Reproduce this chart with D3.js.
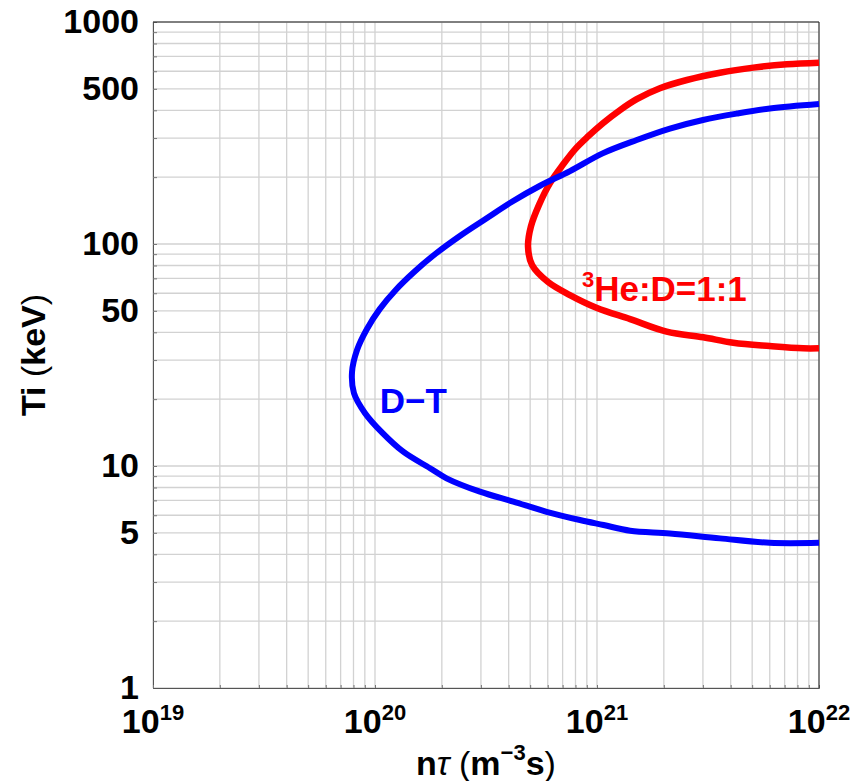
<!DOCTYPE html>
<html>
<head>
<meta charset="utf-8">
<script src="https://cdn.jsdelivr.net/npm/d3@7"></script>
<style>
  body { margin: 0; background: #fff; }
  text { font-family: "Liberation Sans", Arial, sans-serif; font-weight: bold; }
</style>
</head>
<body>
<div id="chart"></div>
<script>
const FRAME_WIDTH = 867;
const FRAME_HEIGHT = 781;
const MARGINS = {left: 153, right: 48, top: 22, bottom: 93};

const VIS_WIDTH = FRAME_WIDTH - MARGINS.left - MARGINS.right;
const VIS_HEIGHT = FRAME_HEIGHT - MARGINS.top - MARGINS.bottom;

// axis ticks
const NT_DECADES = [19, 20, 21, 22];
const TI_LABELS = [1, 5, 10, 50, 100, 500, 1000];

// D-T curve (n tau in m^-3 s, Ti in keV)
const dtNt = [1.00e22, 6.01e21, 4.27e21, 3.00e21, 2.13e21, 1.51e21, 1.06e21, 7.56e20,
              5.54e20, 4.14e20, 3.16e20, 2.42e20, 1.88e20, 1.50e20, 1.24e20, 1.05e20,
              9.20e19, 8.30e19, 7.88e19, 8.04e19, 9.02e19, 1.08e20, 1.34e20, 1.77e20,
              2.10e20, 2.97e20, 4.20e20, 5.93e20, 8.38e20, 1.07e21, 1.41e21, 2.13e21,
              3.58e21, 6.0e21, 1.00e22];
const dtTi = [427, 408, 387, 362, 331, 294, 256, 213,
              183, 155, 130, 109, 90.6, 74.8, 62.1, 50.9,
              41.4, 33.3, 26.5, 21.3, 17.3, 14.1, 11.6, 9.77,
              8.80, 7.66, 6.91, 6.22, 5.71, 5.42, 5.11, 4.97,
              4.72, 4.51, 4.51];

// 3He:D=1:1 curve
const heNt = [1.00e22, 7.16e21, 5.06e21, 3.58e21, 2.54e21, 1.92e21, 1.51e21, 1.27e21,
              1.06e21, 9.11e20, 7.96e20, 7.03e20, 6.14e20, 5.48e20, 5.04e20, 4.89e20,
              5.10e20, 6.02e20, 7.55e20, 1.00e21, 1.41e21, 2.06e21, 3.01e21, 4.11e21,
              6.0e21, 8.49e21, 1.00e22];
const heTi = [656, 645, 623, 591, 548, 503, 449, 401,
              349, 305, 267, 228, 188, 150, 120, 97.2,
              80.4, 67.4, 58.9, 51.5, 45.9, 40.3, 38.0, 35.9,
              34.7, 33.9, 33.9];

const FRAME = d3.select("#chart")
                .append("svg")
                  .attr("width", FRAME_WIDTH)
                  .attr("height", FRAME_HEIGHT);

const X_SCALE = d3.scaleLog().domain([1e19, 1e22]).range([0, VIS_WIDTH]);
const Y_SCALE = d3.scaleLog().domain([1, 1000]).range([VIS_HEIGHT, 0]);

const G = FRAME.append("g")
  .attr("transform", "translate(" + MARGINS.left + "," + MARGINS.top + ")");

// grid lines at every minor tick
const xGrid = X_SCALE.ticks();
const yGrid = Y_SCALE.ticks();

G.selectAll(".xgrid").data(xGrid).enter().append("line")
  .attr("x1", d => X_SCALE(d)).attr("x2", d => X_SCALE(d))
  .attr("y1", 0).attr("y2", VIS_HEIGHT)
  .attr("stroke", "#d2d2d2").attr("stroke-width", 1.3);

G.selectAll(".ygrid").data(yGrid).enter().append("line")
  .attr("x1", 0).attr("x2", VIS_WIDTH)
  .attr("y1", d => Y_SCALE(d)).attr("y2", d => Y_SCALE(d))
  .attr("stroke", "#d2d2d2").attr("stroke-width", 1.3);

// y axis: ticks inside, labels only for some values
const yAxis = G.append("g")
  .call(d3.axisLeft(Y_SCALE).tickValues(yGrid).tickSize(-4).tickPadding(14)
        .tickFormat(d => TI_LABELS.includes(d) ? d : ""));
yAxis.selectAll("text").attr("font-size", "34px").attr("fill", "#000")
  .attr("font-family", "'Liberation Sans', Arial, sans-serif").attr("font-weight", "bold");
yAxis.selectAll(".tick line").attr("stroke", "#777");
yAxis.select(".domain").attr("stroke", "#555");

// x axis: ticks inside, custom power labels
const xAxis = G.append("g")
  .attr("transform", "translate(0," + VIS_HEIGHT + ")")
  .call(d3.axisBottom(X_SCALE).tickValues(xGrid).tickSize(-3).tickFormat(""));
xAxis.selectAll(".tick line").attr("stroke", "#777");
xAxis.select(".domain").attr("stroke", "#555");

const xLabels = G.selectAll(".xlab").data(NT_DECADES).enter().append("text")
  .attr("x", d => X_SCALE(Math.pow(10, d)))
  .attr("y", VIS_HEIGHT + 45)
  .attr("text-anchor", "middle")
  .attr("font-size", "34px");
xLabels.append("tspan").text("10");
xLabels.append("tspan").attr("font-size", "22px").attr("dy", -13).text(d => d);

// top and right frame
G.append("line").attr("x1", 0).attr("x2", VIS_WIDTH).attr("y1", 0).attr("y2", 0)
  .attr("stroke", "#222");
G.append("line").attr("x1", VIS_WIDTH).attr("x2", VIS_WIDTH).attr("y1", 0).attr("y2", VIS_HEIGHT)
  .attr("stroke", "#222");

// curves
const line = d3.line()
  .x(d => X_SCALE(d[0]))
  .y(d => Y_SCALE(d[1]))
  .curve(d3.curveCatmullRom.alpha(0.5));

G.append("path")
  .datum(heNt.map((v, i) => [v, heTi[i]]))
  .attr("d", line)
  .attr("fill", "none").attr("stroke", "#ff0000").attr("stroke-width", 6.5);

G.append("path")
  .datum(dtNt.map((v, i) => [v, dtTi[i]]))
  .attr("d", line)
  .attr("fill", "none").attr("stroke", "#0000ff").attr("stroke-width", 6);

// curve labels
G.append("text")
  .attr("x", X_SCALE(1.05e20)).attr("y", Y_SCALE(17.3))
  .attr("font-size", "35px").attr("fill", "#0000ff")
  .text("D\u2212T");

const heLab = G.append("text")
  .attr("x", X_SCALE(8.55e20)).attr("y", Y_SCALE(55.4))
  .attr("font-size", "35px").attr("fill", "#ff0000");
heLab.append("tspan").attr("font-size", "22px").attr("dy", -14).text("3");
heLab.append("tspan").attr("dy", 14).text("He:D=1:1");

// axis titles
const xTitle = FRAME.append("text")
  .attr("x", MARGINS.left + VIS_WIDTH / 2).attr("y", 775)
  .attr("text-anchor", "middle").attr("font-size", "34px");
xTitle.append("tspan").text("n");
xTitle.append("tspan").attr("font-style", "italic").attr("font-weight", "normal").text("\u03C4 ");
xTitle.append("tspan").attr("font-weight", "normal").text("(");
xTitle.append("tspan").text("m");
xTitle.append("tspan").attr("font-size", "22px").attr("dy", -15).text("\u22123");
xTitle.append("tspan").attr("dy", 15).text("s");
xTitle.append("tspan").attr("font-weight", "normal").text(")");

const yTitle = FRAME.append("text")
  .attr("transform", "translate(45," + (MARGINS.top + VIS_HEIGHT / 2) + ") rotate(-90)")
  .attr("text-anchor", "middle").attr("font-size", "34px");
yTitle.append("tspan").text("Ti ");
yTitle.append("tspan").attr("font-weight", "normal").text("(");
yTitle.append("tspan").text("keV");
yTitle.append("tspan").attr("font-weight", "normal").text(")");
</script>
</body>
</html>
